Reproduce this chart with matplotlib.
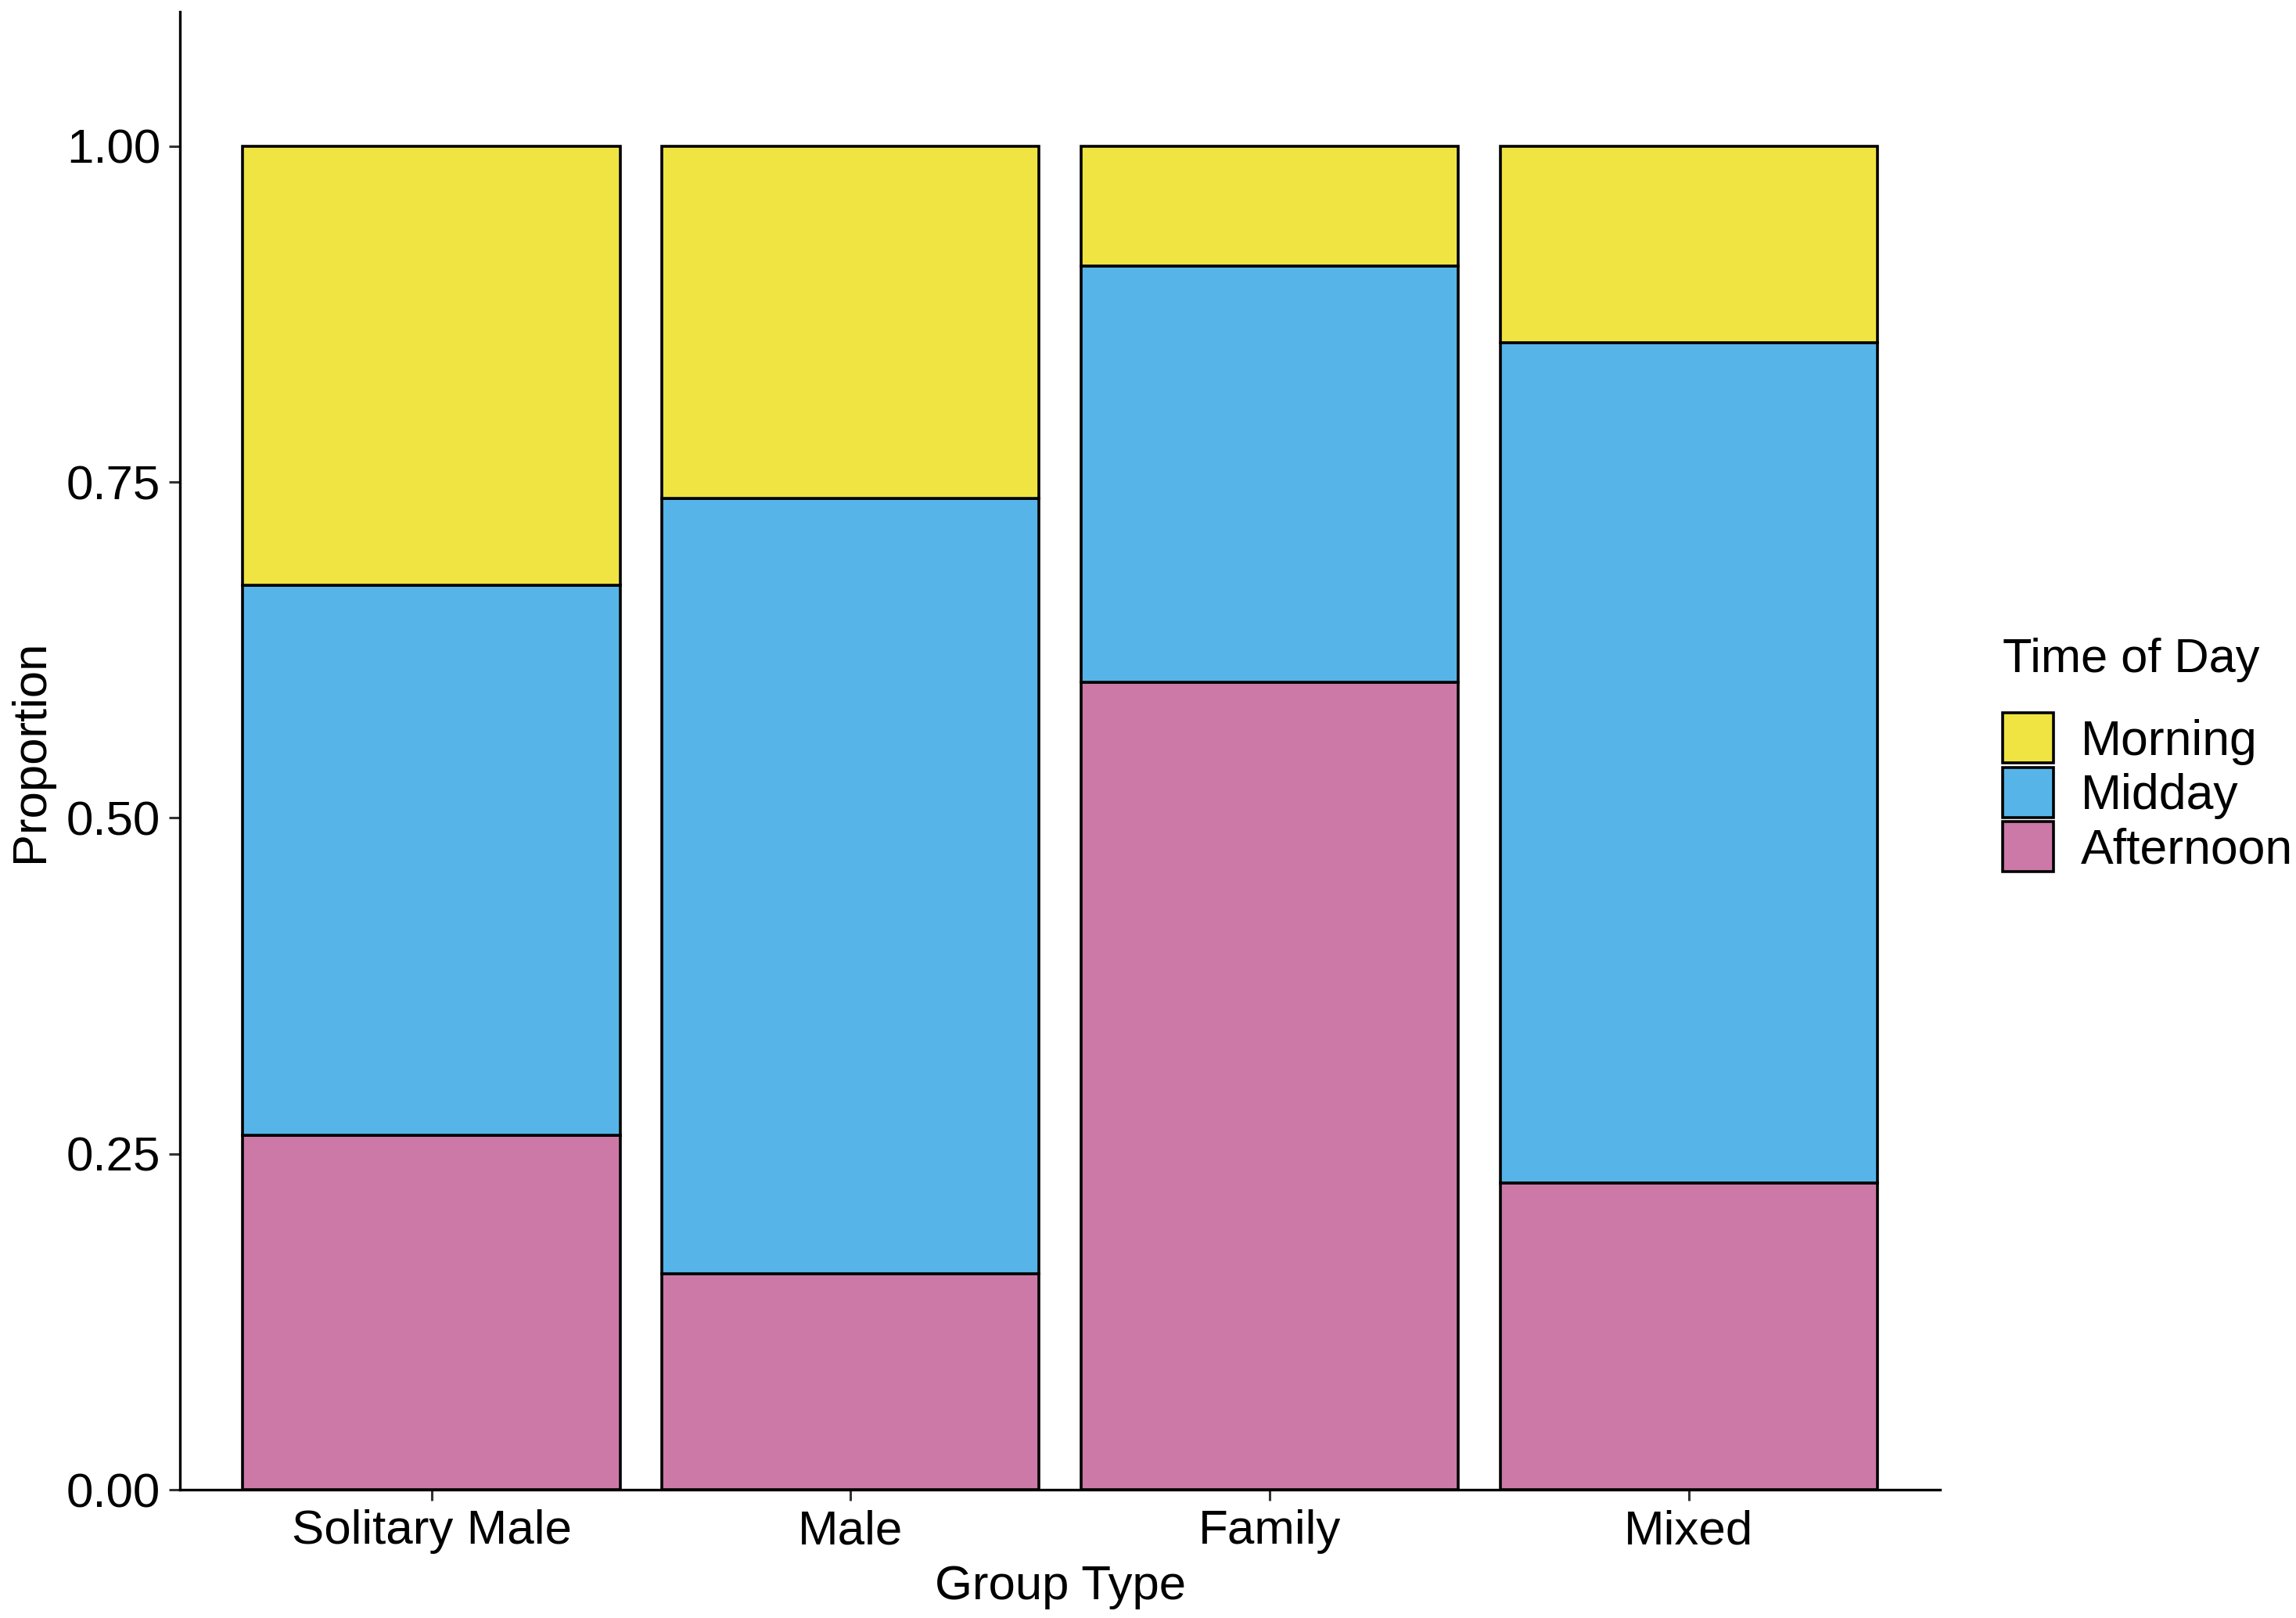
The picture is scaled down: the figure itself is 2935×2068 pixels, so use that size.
import matplotlib.pyplot as plt
from matplotlib.patches import Patch

plt.rcParams["font.family"] = ["Liberation Sans", "DejaVu Sans"]

# values (proportion of sightings per group type)
groups = ["Solitary Male", "Male", "Family", "Mixed"]
afternoon = [0.264, 0.161, 0.601, 0.228]
midday = [0.409, 0.577, 0.310, 0.626]
morning = [1 - a - m for a, m in zip(afternoon, midday)]

series = ["Morning", "Midday", "Afternoon"]
colors = {"Morning": "#F0E442", "Midday": "#56B4E9", "Afternoon": "#CC79A7"}

fig = plt.figure(figsize=(14.675, 10.34), dpi=200)
ax = fig.add_axes([0.0784, 0.0793, 0.7666, 0.9134])

x = list(range(1, len(groups) + 1))
bottom = [0.0] * len(groups)
for name, vals in [("Afternoon", afternoon), ("Midday", midday), ("Morning", morning)]:
    ax.bar(x, vals, width=0.9, bottom=bottom, color=colors[name],
           edgecolor="black", linewidth=1.3)
    bottom = [b + v for b, v in zip(bottom, vals)]

ax.set_xlim(0.4, 4.6)
ax.set_ylim(0, 1.1)
ax.set_xticks(x)
ax.set_xticklabels(groups)
ax.set_yticks([0, 0.25, 0.5, 0.75, 1.0])
ax.set_yticklabels(["0.00", "0.25", "0.50", "0.75", "1.00"])
ax.tick_params(labelsize=22.3, length=5, width=1.1, color="#333333", pad=4)

for side in ["top", "right"]:
    ax.spines[side].set_visible(False)
for side in ["left", "bottom"]:
    ax.spines[side].set_linewidth(1.2)

ax.set_xlabel("Group Type", fontsize=22.2, labelpad=5)
ax.set_ylabel("Proportion", fontsize=22.2, labelpad=6)

handles = [Patch(facecolor=colors[s], edgecolor="black", linewidth=1.3) for s in series]
leg = fig.legend(handles, series, title="Time of Day", loc="center left",
                 bbox_to_anchor=(0.8615, 0.533), frameon=False, fontsize=22.5,
                 title_fontsize=22.1, handlelength=1.05, handleheight=1.2,
                 labelspacing=0.05, handletextpad=0.55, borderpad=0,
                 alignment="left")
leg._legend_box.sep = 14

fig.savefig("out.png", dpi=200)
